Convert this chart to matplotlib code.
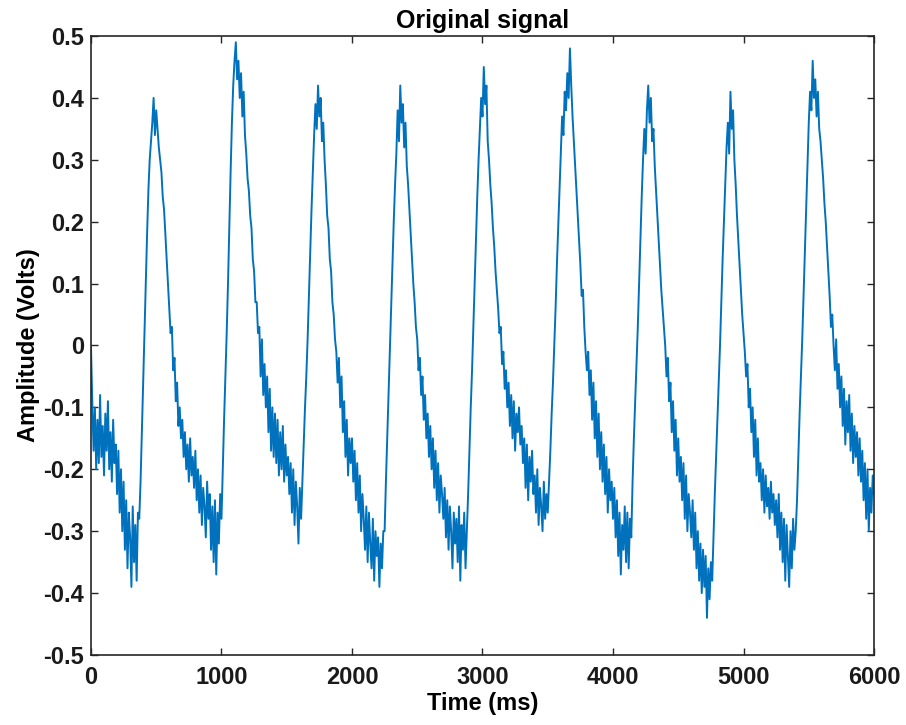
import numpy as np
import matplotlib
matplotlib.use("Agg")
import matplotlib.pyplot as plt

# signal values, one every 10 ms (0..6000 ms)
seg1 = [0.00, -0.09, -0.17, -0.10, -0.20, -0.12, -0.19, -0.08, -0.18, -0.13,
        -0.21, -0.11, -0.17, -0.09, -0.20, -0.14, -0.22, -0.12, -0.19, -0.16,
        -0.24, -0.17, -0.27, -0.20, -0.30, -0.22, -0.33, -0.25, -0.36, -0.27,
        -0.31, -0.39, -0.26, -0.35, -0.29, -0.38, -0.27, -0.28, -0.22, -0.14,
        -0.06, 0.02, 0.10, 0.18, 0.25, 0.30, 0.33, 0.36, 0.40, 0.34,
        0.38, 0.35, 0.32, 0.30, 0.28, 0.24, 0.22, 0.18, 0.14, 0.10]
seg2 = [0.06, 0.02, 0.03, -0.04, -0.02, -0.09, -0.06, -0.13, -0.10, -0.15,
        -0.12, -0.18, -0.14, -0.20, -0.16, -0.22, -0.15, -0.21, -0.18, -0.23,
        -0.17, -0.25, -0.20, -0.27, -0.21, -0.29, -0.23, -0.26, -0.31, -0.22,
        -0.28, -0.24, -0.33, -0.26, -0.35, -0.25, -0.37, -0.27, -0.32, -0.24,
        -0.28, -0.20, -0.12, -0.05, 0.02, 0.10, 0.19, 0.28, 0.36, 0.42,
        0.46, 0.49, 0.43, 0.46, 0.40, 0.44, 0.37, 0.41, 0.34, 0.31]
seg3 = [0.27, 0.25, 0.21, 0.19, 0.14, 0.12, 0.07, 0.07, 0.02, 0.03,
        -0.05, 0.01, -0.08, -0.03, -0.10, -0.05, -0.14, -0.07, -0.17, -0.10,
        -0.18, -0.11, -0.19, -0.12, -0.21, -0.14, -0.20, -0.13, -0.22, -0.16,
        -0.21, -0.18, -0.24, -0.19, -0.27, -0.20, -0.29, -0.22, -0.26, -0.32,
        -0.23, -0.28, -0.22, -0.16, -0.10, -0.05, 0.01, 0.08, 0.15, 0.22,
        0.28, 0.34, 0.39, 0.35, 0.42, 0.37, 0.40, 0.33, 0.36, 0.30]
seg4 = [0.26, 0.21, 0.19, 0.14, 0.12, 0.07, 0.05, 0.01, -0.01, -0.06,
        -0.02, -0.10, -0.05, -0.14, -0.09, -0.18, -0.12, -0.21, -0.15, -0.19,
        -0.15, -0.22, -0.17, -0.25, -0.19, -0.27, -0.21, -0.30, -0.24, -0.28,
        -0.33, -0.26, -0.35, -0.27, -0.32, -0.36, -0.28, -0.38, -0.30, -0.34,
        -0.31, -0.39, -0.32, -0.36, -0.30, -0.30, -0.22, -0.15, -0.08, -0.01,
        0.06, 0.13, 0.20, 0.26, 0.31, 0.38, 0.33, 0.42, 0.36, 0.39]
seg5 = [0.32, 0.36, 0.29, 0.26, 0.22, 0.18, 0.14, 0.10, 0.07, 0.03,
        0.01, -0.04, -0.02, -0.08, -0.05, -0.12, -0.08, -0.15, -0.11, -0.18,
        -0.13, -0.20, -0.15, -0.23, -0.17, -0.25, -0.19, -0.27, -0.21, -0.24,
        -0.28, -0.23, -0.31, -0.25, -0.33, -0.26, -0.30, -0.36, -0.27, -0.32,
        -0.28, -0.35, -0.26, -0.38, -0.29, -0.33, -0.27, -0.36, -0.30, -0.24,
        -0.17, -0.10, -0.04, 0.03, 0.10, 0.17, 0.24, 0.30, 0.35, 0.40]
seg6 = [0.37, 0.45, 0.39, 0.42, 0.33, 0.30, 0.26, 0.23, 0.19, 0.16,
        0.12, 0.09, 0.06, 0.02, 0.03, -0.03, -0.01, -0.07, -0.04, -0.10,
        -0.06, -0.13, -0.08, -0.15, -0.09, -0.17, -0.11, -0.14, -0.10, -0.16,
        -0.13, -0.19, -0.15, -0.23, -0.16, -0.25, -0.18, -0.22, -0.17, -0.24,
        -0.21, -0.27, -0.20, -0.29, -0.23, -0.26, -0.30, -0.22, -0.28, -0.24,
        -0.27, -0.22, -0.17, -0.11, -0.06, 0.00, 0.06, 0.13, 0.19, 0.25]
seg7 = [0.31, 0.37, 0.34, 0.41, 0.38, 0.44, 0.40, 0.48, 0.42, 0.37,
        0.33, 0.29, 0.25, 0.21, 0.17, 0.13, 0.08, 0.09, 0.03, -0.01,
        -0.04, -0.01, -0.08, -0.04, -0.12, -0.06, -0.15, -0.09, -0.18, -0.11,
        -0.20, -0.14, -0.22, -0.16, -0.24, -0.18, -0.27, -0.20, -0.25, -0.22,
        -0.28, -0.23, -0.31, -0.25, -0.34, -0.27, -0.37, -0.29, -0.33, -0.26,
        -0.35, -0.27, -0.36, -0.28, -0.31, -0.22, -0.15, -0.09, -0.03, 0.03]
seg8 = [0.10, 0.17, 0.24, 0.30, 0.35, 0.31, 0.38, 0.42, 0.36, 0.40,
        0.33, 0.35, 0.29, 0.25, 0.21, 0.17, 0.13, 0.09, 0.06, 0.03,
        0.00, -0.05, -0.02, -0.09, -0.06, -0.14, -0.09, -0.17, -0.12, -0.21,
        -0.15, -0.22, -0.18, -0.25, -0.19, -0.28, -0.21, -0.30, -0.24, -0.27,
        -0.31, -0.25, -0.33, -0.27, -0.36, -0.30, -0.38, -0.32, -0.40, -0.33,
        -0.39, -0.34, -0.44, -0.36, -0.41, -0.35, -0.38, -0.31, -0.24, -0.18]
seg9 = [-0.12, -0.06, 0.00, 0.07, 0.14, 0.20, 0.26, 0.32, 0.36, 0.31,
        0.41, 0.35, 0.38, 0.30, 0.26, 0.21, 0.17, 0.13, 0.09, 0.05,
        0.02, -0.01, -0.05, -0.03, -0.10, -0.07, -0.14, -0.10, -0.18, -0.12,
        -0.21, -0.15, -0.22, -0.19, -0.25, -0.20, -0.27, -0.21, -0.26, -0.23,
        -0.28, -0.22, -0.27, -0.24, -0.29, -0.25, -0.31, -0.24, -0.33, -0.27,
        -0.35, -0.28, -0.38, -0.29, -0.34, -0.39, -0.30, -0.36, -0.28, -0.33]
seg10 = [-0.30, -0.25, -0.18, -0.11, -0.05, 0.01, 0.08, 0.15, 0.22, 0.29,
         0.36, 0.41, 0.38, 0.46, 0.40, 0.43, 0.37, 0.41, 0.35, 0.33,
         0.30, 0.27, 0.23, 0.20, 0.16, 0.12, 0.08, 0.03, 0.05, 0.00,
         -0.04, 0.01, -0.07, -0.03, -0.10, -0.05, -0.13, -0.07, -0.16, -0.09,
         -0.14, -0.08, -0.17, -0.11, -0.19, -0.13, -0.18, -0.14, -0.21, -0.15,
         -0.22, -0.17, -0.25, -0.19, -0.28, -0.20, -0.30, -0.23, -0.27, -0.21,
         -0.24]

amp = np.array(seg1 + seg2 + seg3 + seg4 + seg5 + seg6 + seg7 + seg8 + seg9 + seg10)
t = np.arange(len(amp)) * 10

xticks = [0, 1000, 2000, 3000, 4000, 5000, 6000]
yticks = [-0.5, -0.4, -0.3, -0.2, -0.1, 0, 0.1, 0.2, 0.3, 0.4, 0.5]
ylabels = ['-0.5', '-0.4', '-0.3', '-0.2', '-0.1', '0', '0.1', '0.2', '0.3', '0.4', '0.5']

plt.rcParams['font.family'] = ['Liberation Sans', 'DejaVu Sans']
plt.rcParams['font.weight'] = 'bold'
plt.rcParams['axes.unicode_minus'] = False

fig = plt.figure(figsize=(9.06, 7.25), dpi=100)
ax = fig.add_axes([0.1004, 0.0966, 0.8643, 0.8537])
ax.plot(t, amp, color='#0072BD', linewidth=1.4)

ax.set_xlim(0, 6000)
ax.set_ylim(-0.5, 0.5)
ax.set_xticks(xticks)
ax.set_xticklabels([str(x) for x in xticks])
ax.set_yticks(yticks)
ax.set_yticklabels(ylabels)

for s in ax.spines.values():
    s.set_color('#262626')
    s.set_linewidth(1.2)
ax.tick_params(direction='in', length=5, width=1.0, color='#262626',
               top=True, right=True, labelsize=17, labelcolor='#1a1a1a')
ax.tick_params(axis='x', pad=8)
ax.tick_params(axis='y', pad=5)

ax.set_title('Original signal', fontsize=18, fontweight='bold', pad=6)
ax.set_xlabel('Time (ms)', fontsize=17, fontweight='bold', labelpad=2)
ax.set_ylabel('Amplitude (Volts)', fontsize=17, fontweight='bold', labelpad=2)

fig.savefig('out.png', dpi=100, facecolor='white')
